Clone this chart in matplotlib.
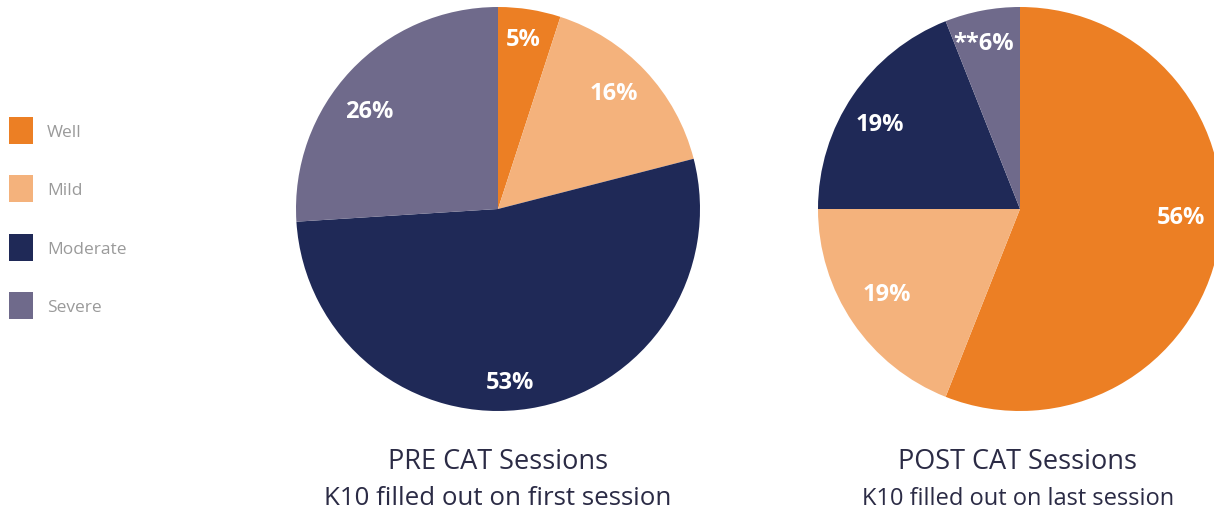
import numpy as np
import matplotlib.pyplot as plt
from matplotlib.patches import Patch

plt.rcParams['font.family'] = ['Open Sans', 'DejaVu Sans']

categories = ['Well', 'Mild', 'Moderate', 'Severe']
colors = ['#EC7F24', '#F4B27C', '#1F2957', '#6F6A8B']
pre_vals = [5, 16, 53, 26]
post_vals = [56, 19, 19, 6]
pre_labels = ['5%', '16%', '53%', '26%']
post_labels = ['56%', '19%', '19%', '**6%']
pre_title = ['PRE CAT Sessions', 'K10 filled out on first session']
post_title = ['POST CAT Sessions', 'K10 filled out on last session']

W, H = 1214, 510
fig = plt.figure(figsize=(W / 100, H / 100), dpi=100)

def pie_axes(cx, cy, r):
    return fig.add_axes([(cx - r) / W, (H - cy - r) / H, 2 * r / W, 2 * r / H])

def draw_pie(ax, vals, labels, dist, shift):
    # shift: label angle nudge in degrees (clockwise), dist: fraction of radius
    wedges, _ = ax.pie(vals, colors=colors, startangle=90, counterclock=False,
                       radius=1, wedgeprops=dict(linewidth=0))
    for w, lab, d, s in zip(wedges, labels, dist, shift):
        mid = np.deg2rad((w.theta1 + w.theta2) / 2 - s)
        ax.text(d * np.cos(mid), d * np.sin(mid), lab, ha='center', va='center',
                color='white', fontsize=17, fontweight='bold')
    ax.set_xlim(-1, 1)
    ax.set_ylim(-1, 1)
    ax.axis('off')

ax1 = pie_axes(498, 210, 202)
draw_pie(ax1, pre_vals, pre_labels, [0.85, 0.81, 0.86, 0.80], [-0.6, -1.8, 5, -6])
ax2 = pie_axes(1020, 210, 202)
draw_pie(ax2, post_vals, post_labels, [0.80, 0.78, 0.81, 0.84], [-8, 1.6, -2.8, -1.6])

fig.text(498 / W, 1 - 462 / H, pre_title[0], ha='center', va='center',
         fontsize=19.5, color='#2B2B45')
fig.text(498 / W, 1 - 499 / H, pre_title[1], ha='center', va='center',
         fontsize=18.6, color='#2B2B45')
fig.text(1018 / W, 1 - 462 / H, post_title[0], ha='center', va='center',
         fontsize=19.5, color='#2B2B45')
fig.text(1018 / W, 1 - 499 / H, post_title[1], ha='center', va='center',
         fontsize=17, color='#2B2B45')

handles = [Patch(facecolor=c, edgecolor='none') for c in colors]
fig.legend(handles, categories, loc='upper left', bbox_to_anchor=(-0.004, 1 - 104 / H),
           frameon=False, fontsize=12.5, labelcolor='#9A9A9A', handlelength=1.4,
           handleheight=2.0, labelspacing=1.82, handletextpad=0.8, borderpad=0.3)

plt.savefig('out.png', dpi=100)
